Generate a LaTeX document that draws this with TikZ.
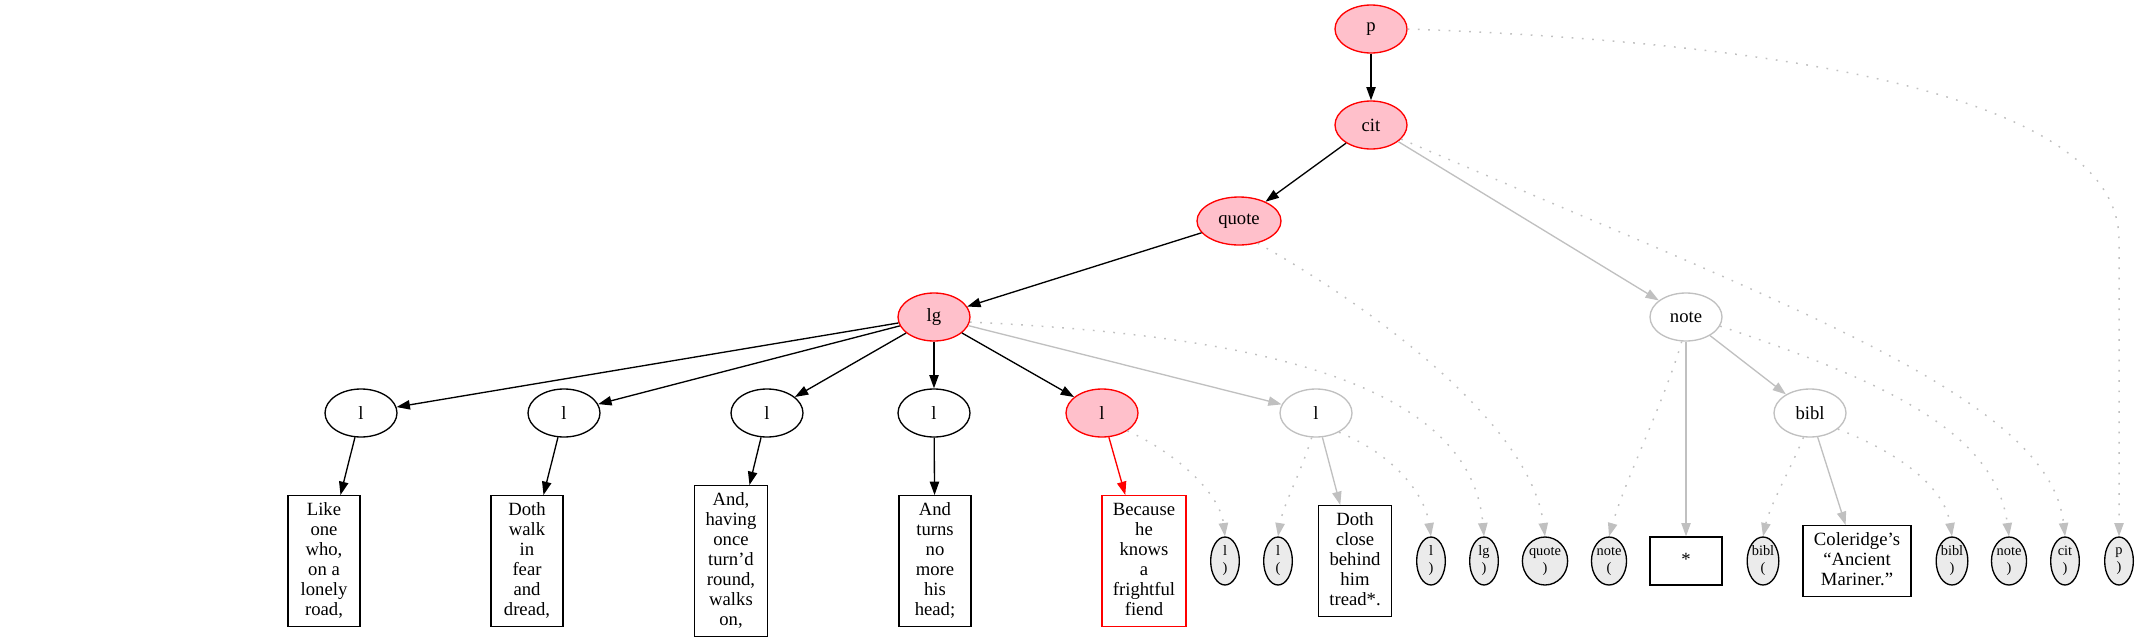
\documentclass[tikz,border=0pt]{standalone}
\usepackage{fontspec}
\setmainfont{Liberation Serif}
\usetikzlibrary{arrows.meta,shapes.geometric}
\definecolor{pinkfill}{HTML}{FFC0CB}
\definecolor{edgegrey}{HTML}{C0C0C0}
\definecolor{tagfill}{HTML}{EBEBEB}
\begin{document}
\begin{tikzpicture}[x=0.75pt,y=-0.75pt,
  every node/.style={font=\fontsize{14}{15}\selectfont},
  elem/.style={ellipse,draw,line width=1pt,minimum width=54pt,minimum height=36pt,inner sep=0pt},
  hot/.style={elem,draw=red,fill=pinkfill},
  dim/.style={elem,draw=edgegrey},
  txtbox/.style={rectangle,draw,line width=1pt,align=center,minimum width=54pt,minimum height=36pt,inner xsep=8.15pt,inner ysep=4pt},
  endtag/.style={ellipse,draw,fill=tagfill,line width=1pt,inner sep=0pt,minimum width=21.5pt,minimum height=36pt,align=center,font=\fontsize{10.8}{12.75}\selectfont},
  tree/.style={line width=1pt,-{Triangle[length=10pt,width=7pt]}},
  greyedge/.style={tree,draw=edgegrey},
  redge/.style={tree,draw=red},
  dotedge/.style={tree,draw=edgegrey,line width=1.1pt,dash pattern=on 1.3pt off 6.4pt}
]
\useasboundingbox (0,0) rectangle (2139,643);

% upper nodes
\node[hot] (p) at (1371,29) {p};
\node[hot] (cit) at (1371,125) {cit};
\node[hot,minimum width=63pt] (quote) at (1239,221) {quote};
\node[hot] (lg) at (934,317) {lg};
\node[dim] (note) at (1686,317) {note};

\node[elem] (l1) at (361,413) {l};
\node[elem] (l2) at (564,413) {l};
\node[elem] (l3) at (767,413) {l};
\node[elem] (l4) at (934,413) {l};
\node[hot] (l5) at (1102,413) {l};
\node[dim] (l6) at (1316,413) {l};
\node[dim] (bibl) at (1810,413) {bibl};

% leaves
\node[txtbox] (t1) at (324,561) {\strut Like\\one\\who,\\on a\\lonely\\road,\strut};
\node[txtbox] (t2) at (527,561) {\strut Doth\\walk\\in\\fear\\and\\dread,\strut};
\node[txtbox] (t3) at (731,561) {\strut And,\\having\\once\\turn’d\\round,\\walks\\on,\strut};
\node[txtbox] (t4) at (935,561) {\strut And\\turns\\no\\more\\his\\head;\strut};
\node[txtbox,draw=red] (t5) at (1144,561) {\strut Because\\he\\knows\\a\\frightful\\fiend\strut};
\node[endtag] (lc1) at (1225,561) {l\\)};
\node[endtag] (lo) at (1278,561) {l\\(};
\node[txtbox] (t6) at (1355,561) {\strut Doth\\close\\behind\\him\\tread*.\strut};
\node[endtag] (lc2) at (1431,561) {l\\)};
\node[endtag] (lgc) at (1484,561) {lg\\)};
\node[endtag] (quotec) at (1545,561) {quote\\)};
\node[endtag] (noteo) at (1609,561) {note\\(};
\node[txtbox] (star) at (1686,561) {\strut *\strut};
\node[endtag] (biblo) at (1763,561) {bibl\\(};
\node[txtbox] (t7) at (1857,561) {\strut Coleridge’s\\“Ancient\\Mariner.”\strut};
\node[endtag] (biblc) at (1952,561) {bibl\\)};
\node[endtag] (notec) at (2009,561) {note\\)};
\node[endtag] (citc) at (2065,561) {cit\\)};
\node[endtag] (pc) at (2119,561) {p\\)};

% black tree edges
\draw[tree] (p) -- (cit);
\draw[tree] (cit) -- (quote);
\draw[tree] (quote) -- (lg);
\draw[tree] (lg) -- (l1);
\draw[tree] (lg) -- (l2);
\draw[tree] (lg) -- (l3);
\draw[tree] (lg) -- (l4);
\draw[tree] (lg) -- (l5);
\draw[tree] (l1) -- (t1);
\draw[tree] (l2) -- (t2);
\draw[tree] (l3) -- (t3);
\draw[tree] (l4) -- (t4);
\draw[redge] (l5) -- (t5);

% grey solid edges
\draw[greyedge] (cit) -- (note);
\draw[greyedge] (lg) -- (l6);
\draw[greyedge] (l6) -- (t6);
\draw[greyedge] (note) -- (star);
\draw[greyedge] (note) -- (bibl);
\draw[greyedge] (bibl) -- (t7);

% dotted closing edges
\draw[dotedge] (p.east) .. controls (1850,45) and (2119,110) .. (2119,240) -- (pc.north);
\draw[dotedge] (cit.-25) .. controls (1800,310) and (2050,400) .. (citc.north);
\draw[dotedge] (note.-15) .. controls (1880,380) and (1995,430) .. (notec.north);
\draw[dotedge] (note.-100) .. controls (1665,400) and (1625,480) .. (noteo.north);
\draw[dotedge] (bibl.-105) .. controls (1790,470) and (1770,505) .. (biblo.north);
\draw[dotedge] (bibl.-30) .. controls (1905,455) and (1945,490) .. (biblc.north);
\draw[dotedge] (quote.-50) .. controls (1360,300) and (1530,420) .. (quotec.north);
\draw[dotedge] (lg.-8) .. controls (1250,335) and (1470,380) .. (lgc.north);
\draw[dotedge] (l5.-35) .. controls (1180,455) and (1220,495) .. (lc1.north);
\draw[dotedge] (l6.-100) .. controls (1300,475) and (1283,505) .. (lo.north);
\draw[dotedge] (l6.-40) .. controls (1395,455) and (1425,495) .. (lc2.north);
\end{tikzpicture}
\end{document}
